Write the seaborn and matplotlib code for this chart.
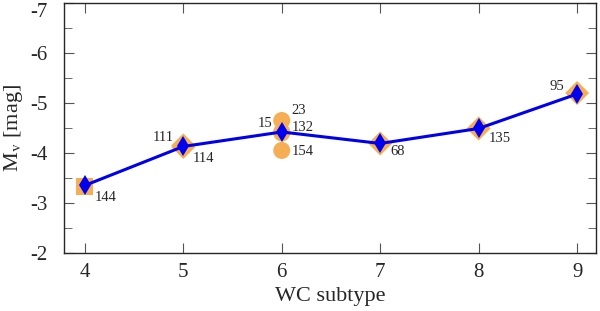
import numpy as np
import pandas as pd
import matplotlib
matplotlib.use("Agg")
import matplotlib.pyplot as plt
from matplotlib.ticker import MultipleLocator
import seaborn as sns

# mean absolute magnitude per WC subtype
subtype = [4, 5, 6, 7, 8, 9]
mean_mv = [-3.35, -4.13, -4.42, -4.19, -4.49, -5.18]

# individual stars
star_id = ["144", "111", "114", "15", "23", "132", "154", "68", "135", "95"]
star_sub = [4, 5, 5, 6, 6, 6, 6, 7, 8, 9]
star_mv = [-3.33, -4.15, -4.12, -4.42, -4.65, -4.40, -4.05, -4.19, -4.49, -5.20]
star_kind = ["sq", "dia", "dia", "circ", "circ", "circ", "circ", "dia", "dia", "dia"]

mean_df = pd.DataFrame({"subtype": subtype, "mv": mean_mv})
star_df = pd.DataFrame({"id": star_id, "subtype": star_sub, "mv": star_mv, "kind": star_kind})

sns.set_style("ticks")
plt.rcParams["font.family"] = ["Liberation Serif", "DejaVu Serif"]
plt.rcParams["mathtext.fontset"] = "stix"
plt.rcParams["axes.unicode_minus"] = False

orange = "#F6AE55"
blue = "#0000EE"

fig, ax = plt.subplots(figsize=(6, 3.11), dpi=100)
fig.subplots_adjust(left=0.107, right=0.993, top=0.99, bottom=0.187)

sns.scatterplot(data=star_df, x="subtype", y="mv", style="kind",
                markers={"sq": "s", "dia": "D", "circ": "o"},
                color=orange, s=150, linewidth=0, legend=False, ax=ax, zorder=2)
sns.lineplot(data=mean_df, x="subtype", y="mv", color=blue, lw=2.2,
             marker="d", markersize=10, markeredgewidth=0, ax=ax, zorder=3)

# label offsets in points (dx, dy, ha)
offsets = {
    "144": (7, -8, "left"), "111": (-7, 6, "right"), "114": (7, -8, "left"),
    "15": (-7, 6, "right"), "23": (7, 7, "left"), "132": (7, 4, "left"),
    "154": (7, -1, "left"), "68": (7, -6, "left"), "135": (7, -7, "left"),
    "95": (-9, 5, "right"),
}
for _, r in star_df.iterrows():
    dx, dy, ha = offsets[r["id"]]
    ax.annotate(r["id"], (r["subtype"], r["mv"]), xytext=(dx, dy),
                textcoords="offset points", ha=ha, va="center", fontsize=10.5)

ax.set_xlim(3.79, 9.19)
ax.set_ylim(-2, -7)
ax.set_xticks(subtype)
ax.yaxis.set_major_locator(MultipleLocator(1))
ax.yaxis.set_minor_locator(MultipleLocator(0.5))
ax.tick_params(which="both", direction="in", top=True, right=True,
               labelsize=15, color="#555555")
ax.tick_params(which="major", length=7)
ax.tick_params(which="minor", length=6)
ax.tick_params(axis="y", pad=12)
ax.tick_params(axis="x", pad=7)
for sp in ax.spines.values():
    sp.set_linewidth(1.0)
ax.set_xlabel("WC subtype", fontsize=16, labelpad=4)
ax.set_ylabel(r"M$_\mathrm{v}$ [mag]", fontsize=16, labelpad=4)

# keep the top tick label inside the figure
fig.canvas.draw()
for lab in ax.get_yticklabels():
    if lab.get_text() == "-7":
        lab.set_verticalalignment("top")

fig.savefig("out.png", dpi=100)
